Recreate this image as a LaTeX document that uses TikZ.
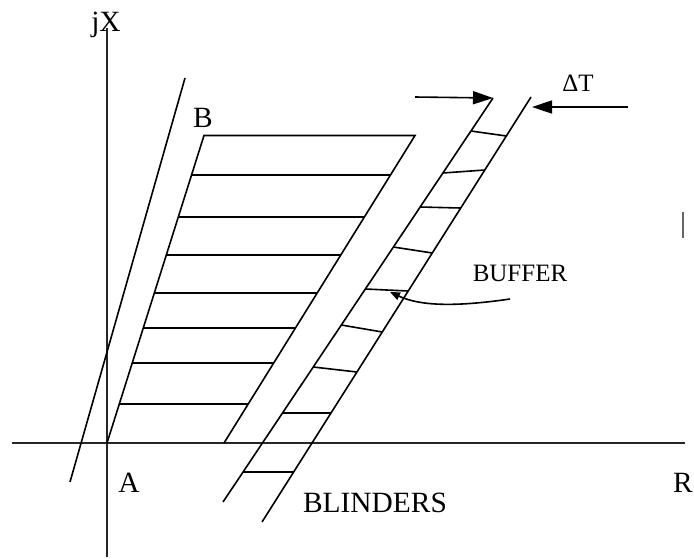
\documentclass[tikz,border=0pt]{standalone}
\usepackage{fontspec}
\setmainfont{Liberation Serif}
\usetikzlibrary{arrows.meta,calc}

\begin{document}
\begin{tikzpicture}[x=0.5pt,y=-0.5pt,line width=0.8pt,
lbl/.style={font=\fontsize{14.7}{17}\selectfont,anchor=base,inner sep=0pt},
smalllbl/.style={font=\fontsize{12.5}{15}\selectfont,anchor=base,inner sep=0pt},
axis/.style={draw=black!85,line width=1pt},
arrow/.style={-{Triangle[length=10pt,width=6.5pt]}},
pointer/.style={-{Triangle[length=5pt,width=4pt]}}]
\useasboundingbox (0,0) rectangle (694,558);
% axes
\coordinate (xl) at (12,443); \coordinate (xr) at (685,443);
\coordinate (yt) at (107,28); \coordinate (yb) at (107,557);
\draw[axis] (xl) -- (xr);
\draw[axis] (yt) -- (yb);
% characteristic
\coordinate (A) at (107,443); \coordinate (tl) at (204,135.5);
\coordinate (tr) at (415,135.5); \coordinate (br) at (224,443);
\draw (A) -- (tl) -- (tr) -- (br);
\foreach \y [evaluate=\y as \t using (443-\y)/307.5] in {175,217,255,293,328,363,404}
  \draw ($(A)!\t!(tl)$) -- ($(br)!\t!(tr)$);
% blinders
\coordinate (b1) at (185,78); \coordinate (b2) at (70,482);
\draw (b1) -- (b2);
\coordinate (m1) at (493,98); \coordinate (m2) at (223,502);
\coordinate (r1) at (531,97); \coordinate (r2) at (262,522);
\draw (m1) -- (m2);
\draw (r1) -- (r2);
\foreach \a/\b [evaluate=\a as \s using (\a-98)/404, evaluate=\b as \t using (\b-97)/425]
  in {131/136,173/170,207/208,247/253,289/291,325/332,367/372,413/413,472/472}
  \draw ($(m1)!\s!(m2)$) -- ($(r1)!\t!(r2)$);
% delta T arrows
\coordinate (dl) at (415,97);
\coordinate (dr) at (628,107); \coordinate (dtip) at (532,107);
\draw[arrow] (dl) -- (m1);
\draw[arrow] (dr) -- (dtip);
% buffer pointer
\coordinate (bf1) at (510,299); \coordinate (bf2) at (390,292);
\draw[pointer] (bf1) .. controls (455,307) and (420,306) .. (bf2);
\coordinate (bar1) at (683,212); \coordinate (bar2) at (683,238);
\draw[black!60,line width=1.2pt] (bar1) -- (bar2);
% labels
\node[lbl] (jx) at (106,31) {jX};
\node[lbl] (lb) at (203,127) {B};
\node[lbl] (la) at (129,492) {A};
\node[lbl] (lr) at (683,492) {R};
\node[lbl] (blinders) at (375,512) {BLINDERS};
\node[smalllbl] (buffer) at (520,281) {BUFFER};
\node[smalllbl] (dt) at (578,91) {ΔT};
\end{tikzpicture}
\end{document}
